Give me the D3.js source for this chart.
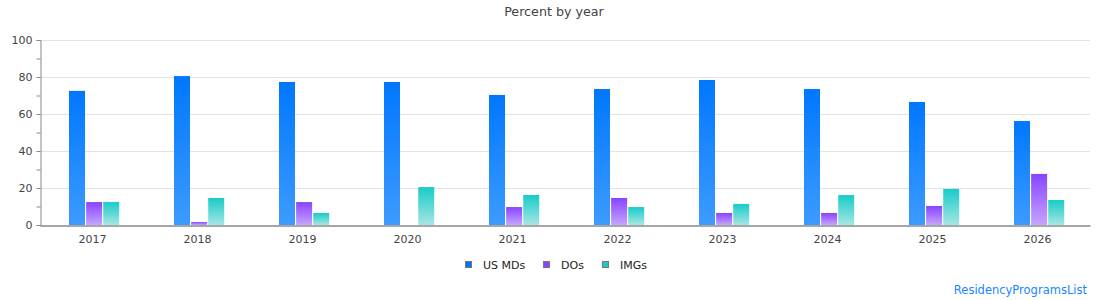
<!DOCTYPE html>
<html><head><meta charset="utf-8">
<script src="https://cdn.jsdelivr.net/npm/d3@7"></script>
<style>body{margin:0;background:#fff;}svg{display:block;font-family:"DejaVu Sans",sans-serif;}</style>
</head><body><svg id="c" width="1110" height="300"></svg>
<script>
const years = ["2017","2018","2019","2020","2021","2022","2023","2024","2025","2026"];
const seriesNames = ["US MDs","DOs","IMGs"];
const usMDs = [72.5,80.5,77.3,77.3,70.3,73.5,78.4,73.5,66.5,56.2];
const dos   = [12.4,1.6,12.4,0,9.7,14.6,6.5,6.5,10.3,27.6];
const imgs  = [12.4,14.6,6.5,20.5,16.2,9.7,11.4,16.2,19.5,13.5];
const yTicks = [0,20,40,60,80,100];
const colorsTop = ["#0077ff","#8844ff","#18cbc8"];
const colorsBot = ["#3d9bff","#c6a4ff","#a6e6e4"];

const svg = d3.select("#c");
const m = {l:40, r:1090, t:40, b:225};
const x = d3.scaleBand().domain(years).range([m.l, m.r]);
const y = d3.scaleLinear().domain([0,100]).range([m.b, m.t]);
const xs = d3.scaleBand().domain(seriesNames).range([29, 80]).paddingInner(0.02);

const defs = svg.append("defs");
seriesNames.forEach((s,i)=>{
  const g = defs.append("linearGradient").attr("id","g"+i).attr("x1",0).attr("y1",0).attr("x2",0).attr("y2",1);
  g.append("stop").attr("offset","0%").attr("stop-color",colorsTop[i]);
  g.append("stop").attr("offset","100%").attr("stop-color",colorsBot[i]);
});

// gridlines
svg.append("g").selectAll("line").data(yTicks.filter(d=>d>0)).join("line")
  .attr("x1",m.l).attr("x2",m.r).attr("y1",d=>y(d)+0.5).attr("y2",d=>y(d)+0.5)
  .attr("stroke","#e3e3e3").attr("stroke-width",1);

// y axis
const ya = svg.append("g").attr("transform",`translate(${m.l+0.5},0)`)
  .call(d3.axisLeft(y).tickValues(d3.range(0,101,10)).tickSize(4).tickFormat(d=>d%20===0?d:""));
ya.select(".domain").attr("stroke","#888");
ya.selectAll(".tick line").attr("stroke","#888");
ya.selectAll(".tick text").attr("fill","#444").attr("font-size",11).attr("font-family","DejaVu Sans").attr("dx",-1);

// bars
const data = [usMDs,dos,imgs];
const gb = svg.append("g");
seriesNames.forEach((s,i)=>{
  gb.selectAll(".b"+i).data(years.map((yr,j)=>({yr,v:data[i][j]}))).join("rect")
    .attr("x",d=>x(d.yr)+xs(s)).attr("width",16)
    .attr("y",d=>y(d.v)).attr("height",d=>m.b-y(d.v))
    .attr("fill",`url(#g${i})`)
    .attr("display",d=>d.v>0?null:"none");
});

// x axis
const xa = svg.append("g").attr("transform",`translate(0,${m.b+0.5})`)
  .call(d3.axisBottom(x).tickSize(0).tickPadding(10));
xa.select(".domain").attr("stroke","#888").attr("stroke-width",1.5);
xa.selectAll(".tick text").attr("fill","#444").attr("font-size",11).attr("font-family","DejaVu Sans");

// title
svg.append("text").attr("x",554).attr("y",16).attr("text-anchor","middle")
  .attr("font-size",12.7).attr("fill","#444").text("Percent by year");

// legend
const lx = [465,543,602];
seriesNames.forEach((s,i)=>{
  svg.append("rect").attr("x",lx[i]+0.5).attr("y",261.5).attr("width",6).attr("height",6)
    .attr("fill",colorsTop[i]).attr("stroke","#777").attr("stroke-width",1);
  svg.append("text").attr("x",lx[i]+18).attr("y",269).attr("font-size",11).attr("fill","#222").text(s);
});

// watermark
svg.append("text").attr("x",1087).attr("y",294).attr("text-anchor","end")
  .attr("font-size",11.5).attr("fill","#1a85ff").text("ResidencyProgramsList");
</script></body></html>
